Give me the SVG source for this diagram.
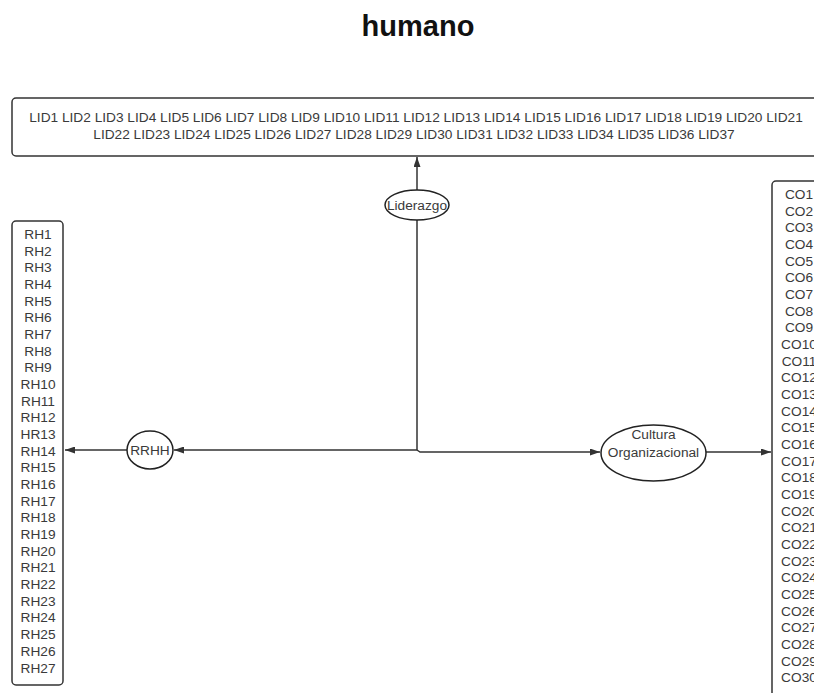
<svg xmlns="http://www.w3.org/2000/svg" width="814" height="693" viewBox="0 0 814 693">
<style>
.t{font-family:"Liberation Sans",Arial,sans-serif;font-size:13.7px;fill:#3a3a3a;text-anchor:middle}
.box{fill:#fff;stroke:#333;stroke-width:1.5}
.ell{fill:#fff;stroke:#222;stroke-width:1.5}
.ln{fill:none;stroke:#333;stroke-width:1.5}
</style>
<defs>
<marker id="ah" viewBox="0 0 10 7" refX="10" refY="3.5" markerWidth="10" markerHeight="7" markerUnits="userSpaceOnUse" orient="auto">
<path d="M0,0 L10,3.5 L0,7 Z" fill="#333"/>
</marker>
</defs>
<rect width="814" height="693" fill="#fff"/>
<text x="418" y="36" style="font-family:'Liberation Sans',Arial,sans-serif;font-size:29px;font-weight:bold;fill:#111;text-anchor:middle">humano</text>

<g id="connectors">
<path class="ln" d="M417,190 V157" marker-end="url(#ah)"/>
<path class="ln" d="M417,220 V450 H174" marker-end="url(#ah)"/>
<path class="ln" d="M417,450 L420,452 H600" marker-end="url(#ah)"/>
<path class="ln" d="M127,450 H65" marker-end="url(#ah)"/>
<path class="ln" d="M706,452 H771" marker-end="url(#ah)"/>
</g>

<g id="lid-box">
<rect class="box" x="12" y="98" width="810" height="58" rx="4"/>
<text class="t" x="416" y="122">LID1 LID2 LID3 LID4 LID5 LID6 LID7 LID8 LID9 LID10 LID11 LID12 LID13 LID14 LID15 LID16 LID17 LID18 LID19 LID20 LID21</text>
<text class="t" x="414" y="139">LID22 LID23 LID24 LID25 LID26 LID27 LID28 LID29 LID30 LID31 LID32 LID33 LID34 LID35 LID36 LID37</text>
</g>

<g id="liderazgo">
<ellipse class="ell" cx="417" cy="205" rx="32" ry="15"/>
<text class="t" x="417" y="210">Liderazgo</text>
</g>

<g id="rrhh">
<ellipse class="ell" cx="150" cy="450" rx="23" ry="19"/>
<text class="t" x="150" y="455">RRHH</text>
</g>

<g id="cultura">
<ellipse class="ell" cx="653.5" cy="453" rx="52.5" ry="28"/>
<text class="t" x="653.5" y="439">Cultura</text>
<text class="t" x="653.5" y="457">Organizacional</text>
</g>

<g id="rh-box">
<rect class="box" x="12" y="221" width="51" height="464" rx="4"/>
<text class="t" x="38" y="239">RH1</text>
<text class="t" x="38" y="256">RH2</text>
<text class="t" x="38" y="272">RH3</text>
<text class="t" x="38" y="289">RH4</text>
<text class="t" x="38" y="306">RH5</text>
<text class="t" x="38" y="322">RH6</text>
<text class="t" x="38" y="339">RH7</text>
<text class="t" x="38" y="356">RH8</text>
<text class="t" x="38" y="372">RH9</text>
<text class="t" x="38" y="389">RH10</text>
<text class="t" x="38" y="406">RH11</text>
<text class="t" x="38" y="422">RH12</text>
<text class="t" x="38" y="439">HR13</text>
<text class="t" x="38" y="456">RH14</text>
<text class="t" x="38" y="472">RH15</text>
<text class="t" x="38" y="489">RH16</text>
<text class="t" x="38" y="506">RH17</text>
<text class="t" x="38" y="522">RH18</text>
<text class="t" x="38" y="539">RH19</text>
<text class="t" x="38" y="556">RH20</text>
<text class="t" x="38" y="572">RH21</text>
<text class="t" x="38" y="589">RH22</text>
<text class="t" x="38" y="606">RH23</text>
<text class="t" x="38" y="622">RH24</text>
<text class="t" x="38" y="639">RH25</text>
<text class="t" x="38" y="656">RH26</text>
<text class="t" x="38" y="673">RH27</text>
</g>

<g id="co-box">
<rect class="box" x="772" y="181" width="54" height="530" rx="4"/>
<text class="t" x="799" y="199">CO1</text>
<text class="t" x="799" y="216">CO2</text>
<text class="t" x="799" y="232">CO3</text>
<text class="t" x="799" y="249">CO4</text>
<text class="t" x="799" y="266">CO5</text>
<text class="t" x="799" y="282">CO6</text>
<text class="t" x="799" y="299">CO7</text>
<text class="t" x="799" y="316">CO8</text>
<text class="t" x="799" y="332">CO9</text>
<text class="t" x="799" y="349">CO10</text>
<text class="t" x="799" y="366">CO11</text>
<text class="t" x="799" y="382">CO12</text>
<text class="t" x="799" y="399">CO13</text>
<text class="t" x="799" y="416">CO14</text>
<text class="t" x="799" y="432">CO15</text>
<text class="t" x="799" y="449">CO16</text>
<text class="t" x="799" y="466">CO17</text>
<text class="t" x="799" y="482">CO18</text>
<text class="t" x="799" y="499">CO19</text>
<text class="t" x="799" y="516">CO20</text>
<text class="t" x="799" y="532">CO21</text>
<text class="t" x="799" y="549">CO22</text>
<text class="t" x="799" y="566">CO23</text>
<text class="t" x="799" y="582">CO24</text>
<text class="t" x="799" y="599">CO25</text>
<text class="t" x="799" y="616">CO26</text>
<text class="t" x="799" y="632">CO27</text>
<text class="t" x="799" y="649">CO28</text>
<text class="t" x="799" y="666">CO29</text>
<text class="t" x="799" y="682">CO30</text>
</g>
</svg>
